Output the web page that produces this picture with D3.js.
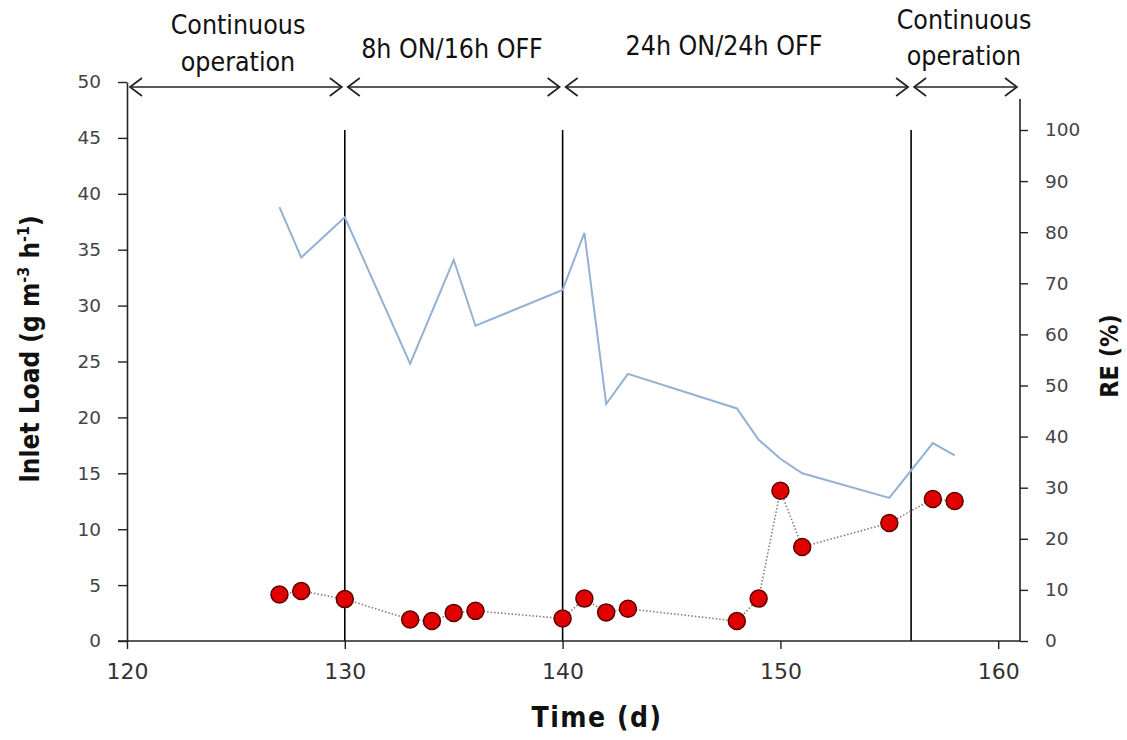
<!DOCTYPE html>
<html><head><meta charset="utf-8">
<script src="https://cdn.jsdelivr.net/npm/d3@7"></script>
<style>
body{margin:0;background:#fff;}
svg{display:block;}
.tick text{font-family:"DejaVu Sans",Verdana,sans-serif;}
</style></head>
<body><svg id="c" width="1127" height="740"></svg>
<script>
// ---- data ----
const loadDays = [127,128,130,133,135,136,140,141,142,143,148,149,150,151,155,157,158];
const inletLoad = [38.8,34.3,37.9,24.8,34.1,28.2,31.4,36.5,21.2,23.9,20.8,18.0,16.3,15.0,12.8,17.7,16.6];
const reDays = [127,128,130,133,134,135,136,140,141,142,143,148,149,150,151,155,157,158];
const reValues = [9.1,9.8,8.2,4.2,3.9,5.5,5.9,4.4,8.3,5.6,6.3,3.9,8.3,29.4,18.4,23.1,27.8,27.4];
const phaseBounds = [130,140,156];
const phases = [
  {from:120, to:130, label:["Continuous","operation"]},
  {from:130, to:140, label:["8h ON/16h OFF"]},
  {from:140, to:156, label:["24h ON/24h OFF"]},
  {from:156, to:161, label:["Continuous","operation"]}
];
const xTicks = [120,130,140,150,160];
const yLeftTicks = [0,5,10,15,20,25,30,35,40,45,50];
const yRightTicks = [0,10,20,30,40,50,60,70,80,90,100];

// ---- drawing ----
const svg = d3.select("#c");
const x = d3.scaleLinear().domain([120,161]).range([127,1020]);
const yL = d3.scaleLinear().domain([0,50]).range([641,82]);
const yR = d3.scaleLinear().domain([0,100]).range([641,130]);
const axisColor = "#222";
const narrow = "'Liberation Sans Narrow','DejaVu Sans Condensed',sans-serif";

// phase vertical lines
svg.append("g").selectAll("line").data(phaseBounds).join("line")
  .attr("x1",d=>x(d)).attr("x2",d=>x(d)).attr("y1",130).attr("y2",641)
  .attr("stroke","#000").attr("stroke-width",1.6);

// x axis
const gx = svg.append("g").attr("transform","translate(0,641)")
  .call(d3.axisBottom(x).tickValues(xTicks).tickSize(8).tickSizeOuter(0).tickPadding(14));
gx.select(".domain").attr("d",`M${x(120)-9},0H${x(161)}`).attr("stroke",axisColor).attr("stroke-width",1.6);
gx.selectAll(".tick line").attr("stroke",axisColor).attr("stroke-width",1.4);
gx.selectAll(".tick text").attr("font-family",narrow).attr("font-size",22).attr("fill","#333");

// left axis
const gl = svg.append("g").attr("transform",`translate(${x(120)},0)`)
  .call(d3.axisLeft(yL).tickValues(yLeftTicks).tickSize(9).tickSizeOuter(0).tickPadding(17));
gl.select(".domain").attr("stroke",axisColor).attr("stroke-width",1.6);
gl.selectAll(".tick line").attr("stroke",axisColor).attr("stroke-width",1.4);
gl.selectAll(".tick text").attr("font-size",18.5).attr("fill","#444");

// right axis
const gr = svg.append("g").attr("transform",`translate(${x(161)},0)`)
  .call(d3.axisRight(yR).tickValues(yRightTicks).tickSize(8).tickSizeOuter(0).tickPadding(17));
gr.select(".domain").attr("d","M0,99V641").attr("stroke",axisColor).attr("stroke-width",1.6);
gr.selectAll(".tick line").attr("stroke",axisColor).attr("stroke-width",1.4);
gr.selectAll(".tick text").attr("font-size",18.5).attr("fill","#444");

// axis titles
svg.append("text").attr("x",597).attr("y",727).attr("text-anchor","middle")
  .attr("font-family",narrow).attr("font-weight","bold").attr("font-size",28).attr("fill","#111")
  .attr("letter-spacing",1.5)
  .text("Time (d)");
const lt = svg.append("text").attr("transform","translate(39,349) rotate(-90)").attr("text-anchor","middle")
  .attr("font-family",narrow).attr("font-weight","bold").attr("font-size",26).attr("fill","#111");
lt.append("tspan").text("Inlet Load (g m");
lt.append("tspan").attr("dy",-10).attr("font-size",16).text("-3");
lt.append("tspan").attr("dy",10).text(" h");
lt.append("tspan").attr("dy",-10).attr("font-size",16).text("-1");
lt.append("tspan").attr("dy",10).text(")");
svg.append("text").attr("transform","translate(1118,356) rotate(-90)").attr("text-anchor","middle")
  .attr("font-family",narrow).attr("font-weight","bold").attr("font-size",25).attr("fill","#111")
  .text("RE (%)");

// inlet load line
svg.append("path").datum(loadDays.map((d,i)=>[d,inletLoad[i]]))
  .attr("fill","none").attr("stroke","#93b1d4").attr("stroke-width",2)
  .attr("d",d3.line().x(d=>x(d[0])).y(d=>yL(d[1])));

// RE dotted line + markers
const reData = reDays.map((d,i)=>[d,reValues[i]]);
svg.append("path").datum(reData)
  .attr("fill","none").attr("stroke","#8a7a7a").attr("stroke-width",1.6).attr("stroke-dasharray","1.5,2")
  .attr("d",d3.line().x(d=>x(d[0])).y(d=>yR(d[1])));
svg.append("g").selectAll("circle").data(reData).join("circle")
  .attr("cx",d=>x(d[0])).attr("cy",d=>yR(d[1])).attr("r",8.5)
  .attr("fill","#e00000").attr("stroke","#5a0000").attr("stroke-width",1.5);

// phase arrows
const ay = 87;
const ag = svg.append("g").attr("stroke","#222").attr("stroke-width",1.7).attr("fill","none");
phases.forEach(p=>{
  const x1 = x(p.from)+3, x2 = x(p.to)-3;
  ag.append("line").attr("x1",x1).attr("x2",x2).attr("y1",ay).attr("y2",ay);
  ag.append("path").attr("d",`M${x1+12},${ay-9}L${x1},${ay}L${x1+12},${ay+9}`);
  ag.append("path").attr("d",`M${x2-12},${ay-9}L${x2},${ay}L${x2-12},${ay+9}`);
});
const labelPos = [
  {cx:238, ys:[34,71]},
  {cx:452, ys:[58]},
  {cx:724, ys:[55]},
  {cx:964, ys:[29,65]}
];
phases.forEach((p,i)=>{
  p.label.forEach((t,j)=>{
    svg.append("text").attr("x",labelPos[i].cx).attr("y",labelPos[i].ys[j])
      .attr("text-anchor","middle").attr("font-family",narrow).attr("font-size",26.5).attr("fill","#111")
      .text(t);
  });
});
</script></body></html>
